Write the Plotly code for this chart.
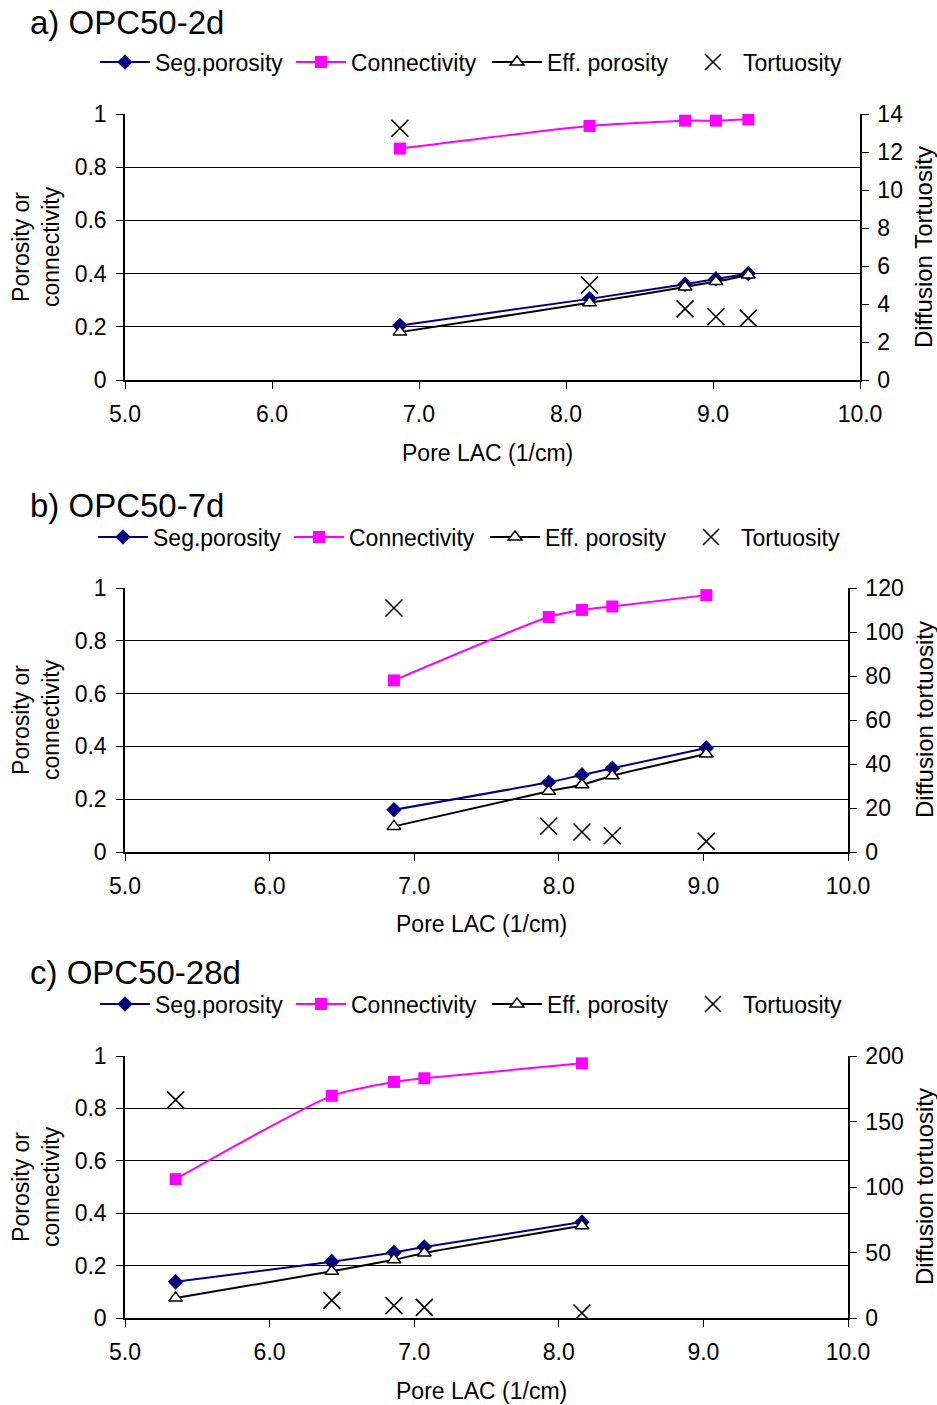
import plotly.graph_objects as go

W, H = 937, 1405

# ---------------- data ----------------
panel_titles = ["a) OPC50-2d", "b) OPC50-7d", "c) OPC50-28d"]
right_titles = ["Diffusion Tortuosity", "Diffusion tortuosity", "Diffusion tortuosity"]
series_names = ["Seg.porosity", "Connectivity", "Eff. porosity", "Tortuosity"]
x_ticks = [5.0, 6.0, 7.0, 8.0, 9.0, 10.0]

a_lac = [6.87, 8.16, 8.81, 9.02, 9.24]
a_seg = [0.205, 0.305, 0.36, 0.38, 0.40]
a_conn = [0.87, 0.955, 0.975, 0.975, 0.98]
a_eff = [0.18, 0.29, 0.35, 0.37, 0.395]
a_tort = [13.25, 5.0, 3.74, 3.33, 3.26]

b_lac = [6.86, 7.93, 8.16, 8.37, 9.02]
b_seg = [0.16, 0.264, 0.292, 0.317, 0.394]
b_conn = [0.65, 0.89, 0.917, 0.93, 0.973]
b_eff = [0.097, 0.23, 0.255, 0.289, 0.371]
b_tort = [110.9, 11.7, 9.1, 7.4, 4.8]

c_lac = [5.35, 6.43, 6.86, 7.07, 8.16]
c_seg = [0.138, 0.215, 0.25, 0.271, 0.366]
c_conn = [0.53, 0.848, 0.901, 0.915, 0.972]
c_eff = [0.076, 0.178, 0.222, 0.248, 0.352]
c_tort = [166.5, 13.5, 9.4, 8.1, 3.8]

right_max = [14, 120, 200]
right_dtick = [2, 20, 50]

data = [
    (a_lac, a_seg, a_conn, a_eff, a_tort),
    (b_lac, b_seg, b_conn, b_eff, b_tort),
    (c_lac, c_seg, c_conn, c_eff, c_tort),
]

# ---------------- layout geometry (screen pixels) ----------------
geom = [  # left, right, top, bottom
    (125, 860, 114, 380),
    (125, 848, 588, 852),
    (125, 848, 1056, 1318),
]
title_y = [23, 505, 972]
legend_y = [62, 537, 1004]
legend_x = [95, 93, 95]
xtitle_y = [453, 924, 1391]

FONT = "Liberation Sans"
TICKF = dict(family=FONT, size=23, color="black")

def px(x):
    return x / W

def py(y):
    return 1 - y / H

fig = go.Figure()
layout = {}
annotations = []

for k in range(3):
    lac, seg, conn, eff, tort = data[k]
    L, R, T, B = geom[k]
    xm = f"x{k+1}" if k else "x"
    yl = f"y{4*k+1}" if k else "y"
    yr = f"y{4*k+2}"
    leg = "legend" if k == 0 else f"legend{k+1}"

    fig.add_trace(go.Scatter(x=lac, y=seg, name=series_names[0], mode="lines+markers",
                             line=dict(color="#000080", width=2, shape="spline", smoothing=0.6),
                             marker=dict(symbol="diamond", size=12, color="#000080"),
                             xaxis=xm, yaxis=yl, legend=leg))
    fig.add_trace(go.Scatter(x=lac, y=conn, name=series_names[1], mode="lines+markers",
                             line=dict(color="#ff00ff", width=2, shape="spline", smoothing=0.6),
                             marker=dict(symbol="square", size=12, color="#ff00ff"),
                             xaxis=xm, yaxis=yl, legend=leg))
    fig.add_trace(go.Scatter(x=lac, y=eff, name=series_names[2], mode="lines+markers",
                             line=dict(color="black", width=2, shape="spline", smoothing=0.6),
                             marker=dict(symbol="triangle-up", size=12, color="white",
                                         line=dict(color="black", width=1.5)),
                             xaxis=xm, yaxis=yl, legend=leg))
    fig.add_trace(go.Scatter(x=lac, y=tort, name=series_names[3], mode="markers",
                             marker=dict(symbol="x-thin", size=17, color="black",
                                         line=dict(color="black", width=1.6)),
                             xaxis=xm, yaxis=yr, legend=leg))

    xdom = [px(L), px(R)]
    ydom = [py(B), py(T)]
    xkey = "xaxis" if k == 0 else f"xaxis{k+1}"
    layout[xkey] = dict(domain=xdom, anchor=yl, range=[5, 10], tickvals=x_ticks,
                        tickformat=".1f", showline=True, linecolor="black", linewidth=1.5,
                        ticks="outside", ticklen=7, tickcolor="black", showgrid=False,
                        zeroline=False, tickfont=TICKF, ticklabelstandoff=6,
                        automargin=False)
    layout[f"xaxis{k+4}"] = dict(domain=xdom, anchor=yl, overlaying=xm, range=[5, 10],
                                 tickvals=x_ticks, ticks="inside", ticklen=7, tickcolor="black",
                                 showticklabels=False, showline=False, showgrid=False,
                                 zeroline=False, automargin=False)
    ylkey = "yaxis" if k == 0 else f"yaxis{4*k+1}"
    layout[ylkey] = dict(domain=ydom, anchor=xm, range=[0, 1],
                         tickvals=[0, 0.2, 0.4, 0.6, 0.8, 1],
                         ticktext=["0", "0.2", "0.4", "0.6", "0.8", "1"],
                         showline=True, linecolor="black", linewidth=1.5,
                         ticks="outside", ticklen=7, tickcolor="black",
                         showgrid=True, gridcolor="black", gridwidth=1,
                         zeroline=False, tickfont=TICKF, ticklabelstandoff=5,
                         automargin=False)
    layout[f"yaxis{4*k+2}"] = dict(domain=ydom, anchor=xm, overlaying=yl, side="right",
                                   range=[0, right_max[k]], dtick=right_dtick[k],
                                   showline=True, linecolor="black", linewidth=1.5,
                                   ticks="outside", ticklen=7, tickcolor="black",
                                   showgrid=False, zeroline=False, tickfont=TICKF,
                                   ticklabelstandoff=4, automargin=False)
    layout[f"yaxis{4*k+3}"] = dict(domain=ydom, anchor=xm, overlaying=yl, side="left",
                                   range=[0, 1], dtick=0.2, ticks="inside", ticklen=7,
                                   tickcolor="black", showticklabels=False, showline=False,
                                   showgrid=False, zeroline=False, automargin=False)
    layout[f"yaxis{4*k+4}"] = dict(domain=ydom, anchor=xm, overlaying=yl, side="right",
                                   range=[0, right_max[k]], dtick=right_dtick[k],
                                   ticks="inside", ticklen=7, tickcolor="black",
                                   showticklabels=False, showline=False, showgrid=False,
                                   zeroline=False, automargin=False)

    layout[leg] = dict(orientation="h", x=px(legend_x[k]), y=py(legend_y[k]),
                       xanchor="left", yanchor="middle", bgcolor="rgba(0,0,0,0)",
                       font=dict(family=FONT, size=23, color="black"),
                       itemwidth=50, tracegroupgap=0,
                       entrywidth=131, entrywidthmode="pixels")

    annotations.append(dict(text=panel_titles[k], x=px(28), y=py(title_y[k]), xref="paper",
                            yref="paper", xanchor="left", yanchor="middle", showarrow=False,
                            font=dict(family=FONT, size=33, color="black")))
    annotations.append(dict(text="Pore LAC (1/cm)", x=px((L + R) / 2 - 5), y=py(xtitle_y[k]),
                            xref="paper", yref="paper", xanchor="center", yanchor="middle",
                            showarrow=False, font=dict(family=FONT, size=23, color="black")))
    annotations.append(dict(text="Porosity or<br>connectivity", x=px(36), y=py((T + B) / 2),
                            xref="paper", yref="paper", xanchor="center", yanchor="middle",
                            textangle=-90, showarrow=False,
                            font=dict(family=FONT, size=23, color="black")))
    annotations.append(dict(text=right_titles[k], x=px(924), y=py((T + B) / 2),
                            xref="paper", yref="paper", xanchor="center", yanchor="middle",
                            textangle=-90, showarrow=False,
                            font=dict(family=FONT, size=24, color="black")))

fig.update_layout(template="none", width=W, height=H, margin=dict(l=0, r=0, t=0, b=0),
                  paper_bgcolor="white", plot_bgcolor="white",
                  annotations=annotations, **layout)

# remove the default 8px page margin so the figure fills the window exactly
fig.write_html("out.html", config={"displayModeBar": False},
               post_script="document.body.style.margin='0';")
